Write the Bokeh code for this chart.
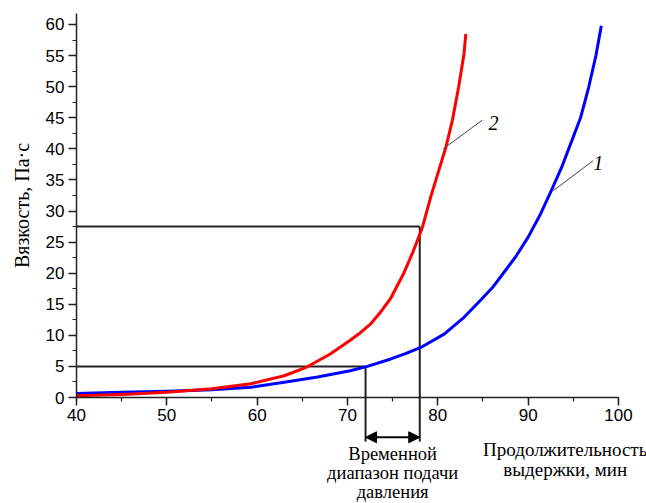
from bokeh.plotting import figure
from bokeh.models import Range1d, LinearAxis, SingleIntervalTicker, Arrow, NormalHead
from bokeh.core.properties import value
from bokeh.embed import file_html
from bokeh.resources import INLINE

# Curve 1 (blue)
x1 = [40, 45, 50, 55, 59.3, 63.0, 66.7, 70.3, 72.2, 74.8, 76.5, 78.3, 80.7, 82.9, 84.7,
      86.0, 87.0, 88.6, 90.0, 91.4, 92.6, 93.7, 94.7, 95.8, 96.7, 97.5, 98.1]
y1 = [0.65, 0.85, 1.0, 1.25, 1.66, 2.46, 3.3, 4.3, 5.0, 6.2, 7.1, 8.2, 10.2, 12.9, 15.6,
      17.6, 19.5, 22.6, 25.8, 29.6, 33.4, 37.0, 40.8, 45.0, 49.9, 55.0, 59.8]
# Curve 2 (red)
x2 = [40, 45, 50, 55, 59.3, 63.0, 65.5, 68.1, 70.3, 71.5, 72.6, 73.7, 74.8, 76.2, 77.3,
      78.3, 79.2, 80.1, 80.9, 81.6, 82.3, 82.9, 83.1]
y2 = [0.3, 0.5, 0.85, 1.4, 2.2, 3.5, 4.9, 7.0, 9.2, 10.5, 11.9, 13.8, 16.0, 19.9, 23.6,
      27.4, 32.2, 36.5, 40.3, 44.5, 49.9, 55.3, 58.5]

# pressure window
t_start, t_end = 72, 78
v_low, v_high = 5, 27.5
arrow_y = -6.4
drop_y = -7.1

# curve labels and leader lines
lab_text = ["1", "2"]
lab_x = [97.2, 85.6]
lab_y = [37.8, 44.2]
lead_x0 = [92.8, 80.6]
lead_y0 = [33.3, 40.0]
lead_x1 = [97.2, 84.9]
lead_y1 = [38.1, 44.6]

serif = value("Liberation Serif")
sans = "Liberation Sans"

p = figure(width=646, height=503, x_range=Range1d(31.59, 103.1),
           y_range=Range1d(-17.05, 63.86), output_backend="svg",
           toolbar_location=None, x_axis_location=None, y_axis_location=None,
           min_border=0)
p.outline_line_color = None
p.grid.visible = False
p.background_fill_color = "white"

xa = LinearAxis(fixed_location=0, bounds=(40, 100),
                ticker=SingleIntervalTicker(interval=10, num_minor_ticks=2))
ya = LinearAxis(fixed_location=40, bounds=(0, 61.8),
                ticker=SingleIntervalTicker(interval=5, num_minor_ticks=2),
                axis_label="Вязкость, Па·с")
for ax in (xa, ya):
    ax.axis_line_color = "#222222"
    ax.axis_line_width = 1.5
    ax.major_tick_line_color = "#222222"
    ax.minor_tick_line_color = "#222222"
    ax.major_tick_line_width = 1.5
    ax.minor_tick_line_width = 1.2
    ax.major_tick_in = 0
    ax.major_tick_out = 8
    ax.minor_tick_in = 0
    ax.minor_tick_out = 4
    ax.major_label_text_font = sans
    ax.major_label_text_font_size = "17px"
    ax.major_label_text_color = "black"
ya.axis_label_text_font = "Liberation Serif"
ya.axis_label_text_font_size = "20px"
ya.axis_label_text_font_style = "normal"
ya.axis_label_text_color = "black"
ya.axis_label_standoff = 10
ya.major_label_standoff = 4
xa.major_label_standoff = 3
p.add_layout(xa, "below")
p.add_layout(ya, "left")

# reference lines
p.segment(x0=[40, 40], y0=[v_low, v_high], x1=[t_start, t_end], y1=[v_low, v_high],
          line_color="#222222", line_width=2)
p.segment(x0=[t_start, t_end], y0=[v_low, v_high], x1=[t_start, t_end], y1=[drop_y, drop_y],
          line_color="#222222", line_width=2)

p.line(x1, y1, line_color="#0000ff", line_width=3, line_join="round")
p.line(x2, y2, line_color="#ff0000", line_width=3, line_join="round")

p.add_layout(Arrow(start=NormalHead(size=11, fill_color="black", line_color="black"),
                   end=NormalHead(size=11, fill_color="black", line_color="black"),
                   x_start=t_start, y_start=arrow_y, x_end=t_end, y_end=arrow_y,
                   line_width=2, line_color="black"))

p.segment(x0=lead_x0, y0=lead_y0, x1=lead_x1, y1=lead_y1, line_color="#444444", line_width=1)
p.text(x=lab_x, y=lab_y, text=lab_text, text_font=serif, text_font_style="italic",
       text_font_size="20px", text_baseline="middle", text_align="left", text_color="black")

p.text(x=[75.0], y=[-7.5], text=["Временной\nдиапазон подачи\nдавления"], text_font=serif,
       text_font_size="18.5px", text_align="center", text_baseline="top",
       text_line_height=0.95, text_color="black")
p.text(x=[94.1], y=[-6.6], text=["Продолжительность\nвыдержки, мин"], text_font=serif,
       text_font_size="19px", text_align="center", text_baseline="top",
       text_line_height=0.97, text_color="black")

open("out.html", "w").write(file_html(p, INLINE))
